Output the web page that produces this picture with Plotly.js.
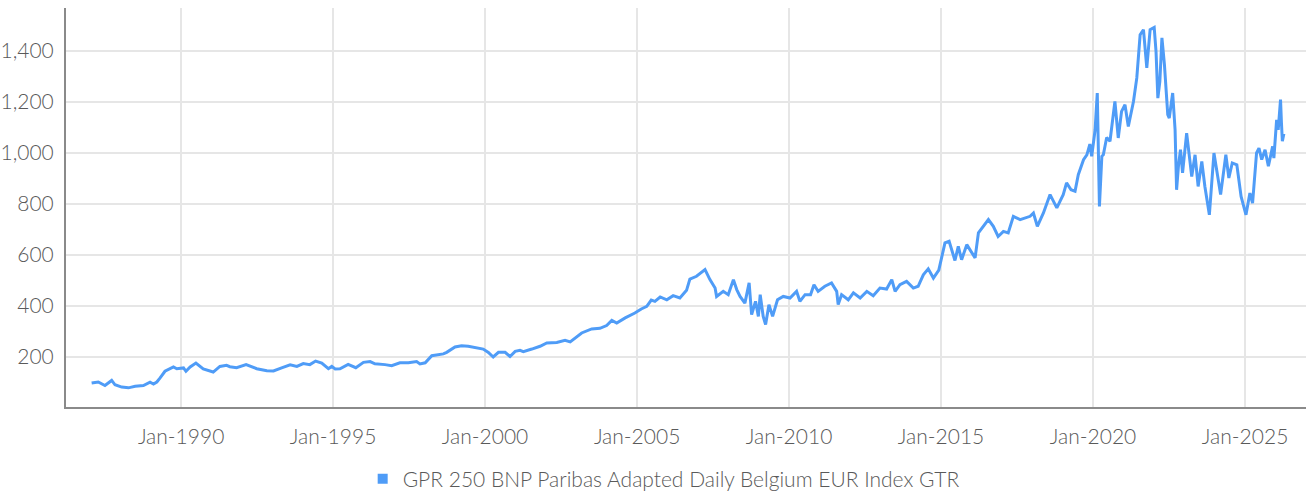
<!DOCTYPE html>
<html>
<head>
<meta charset="utf-8">
<script src="https://cdn.plot.ly/plotly-3.0.1.min.js"></script>
<style>
  html, body { margin: 0; padding: 0; background: #ffffff; }
  #chart { width: 1308px; height: 493px; }
</style>
</head>
<body>
<div id="chart"></div>
<script>
// Series name
const seriesName = "GPR 250 BNP Paribas Adapted Daily Belgium EUR Index GTR";

// Dates
const dates = [
  "1987-01-22","1987-04-12","1987-07-01","1987-09-20","1987-10-30","1988-01-18","1988-04-08","1988-06-28","1988-10-05","1988-12-24",
  "1989-02-03","1989-03-15","1989-04-24","1989-06-21","1989-10-01","1989-11-10","1990-01-30","1990-02-28","1990-04-20","1990-06-28",
  "1990-09-24","1991-01-22","1991-04-12","1991-07-01","1991-08-10","1991-10-30","1992-02-21","1992-06-28","1992-10-27","1993-01-15",
  "1993-04-23","1993-08-03","1993-10-23","1994-01-08","1994-03-28","1994-06-05","1994-08-18","1994-11-06","1994-12-16","1995-01-26",
  "1995-03-25","1995-07-01","1995-10-01","1996-01-01","1996-03-21","1996-05-18","1996-09-16","1996-12-05","1997-03-14","1997-06-24",
  "1997-10-01","1997-11-10","1998-01-12","1998-04-01","1998-08-18","1998-09-27","1999-01-05","1999-03-25","1999-06-13","1999-10-12",
  "1999-12-10","2000-02-10","2000-04-08","2000-06-10","2000-08-29","2000-10-27","2000-12-28","2001-02-24","2001-04-05","2001-07-16",
  "2001-10-23","2002-01-12","2002-05-12","2002-08-19","2002-10-20","2003-03-07","2003-07-05","2003-10-12","2004-01-01","2004-03-03",
  "2004-05-01","2004-08-11","2004-12-05","2005-02-20","2005-04-27","2005-06-20","2005-08-03","2005-10-05","2005-12-24","2006-03-10",
  "2006-05-30","2006-08-18","2006-09-27","2006-12-16","2007-03-28","2007-05-26","2007-07-27","2007-08-14","2007-11-02","2008-01-01",
  "2008-03-03","2008-04-12","2008-05-22","2008-07-19","2008-09-08","2008-10-08","2008-11-24","2008-12-28","2009-01-19","2009-02-24",
  "2009-03-25","2009-05-04","2009-06-17","2009-08-15","2009-10-23","2010-01-12","2010-04-01","2010-05-11","2010-07-12","2010-09-16",
  "2010-10-27","2010-12-16","2011-03-07","2011-05-26","2011-07-27","2011-08-14","2011-09-24","2011-12-13","2012-02-13","2012-05-04",
  "2012-07-23","2012-10-08","2012-12-28","2013-03-18","2013-05-19","2013-06-28","2013-08-25","2013-11-13","2014-02-02","2014-04-01",
  "2014-06-02","2014-07-31","2014-10-01","2014-12-05","2015-01-19","2015-02-17","2015-04-08","2015-06-17","2015-07-27","2015-09-05",
  "2015-11-06","2016-01-05","2016-02-14","2016-03-25","2016-05-22","2016-07-23","2016-09-20","2016-11-17","2017-01-19","2017-03-18",
  "2017-05-19","2017-08-08","2017-12-06","2018-01-15","2018-03-03","2018-05-15","2018-08-03","2018-10-23","2019-01-08","2019-02-17",
  "2019-04-12","2019-05-30","2019-07-08","2019-09-09","2019-10-19","2019-11-24","2019-12-16","2020-01-26","2020-02-21","2020-03-18",
  "2020-04-16","2020-05-04","2020-06-13","2020-07-23","2020-09-20","2020-10-30","2020-12-09","2021-01-19","2021-02-28","2021-05-01",
  "2021-06-10","2021-07-20","2021-08-29","2021-10-08","2021-11-17","2022-01-05","2022-01-27","2022-02-18","2022-03-14","2022-04-08",
  "2022-05-08","2022-06-17","2022-07-05","2022-08-15","2022-09-13","2022-10-01","2022-10-23","2022-11-17","2022-12-12","2023-01-30",
  "2023-04-01","2023-05-11","2023-06-17","2023-07-31","2023-09-06","2023-10-30","2023-12-24","2024-02-02","2024-03-13","2024-05-15",
  "2024-06-20","2024-07-31","2024-09-24","2024-11-14","2025-01-12","2025-02-28","2025-04-01","2025-05-19","2025-06-17","2025-07-20",
  "2025-08-29","2025-10-08","2025-11-28","2025-12-13","2026-01-15","2026-02-03","2026-03-03","2026-03-14","2026-03-25","2026-04-12"
];

// Index values
const values = [
  98,102,88,108,91,82,79,85,88,101,
  94,102,118,144,161,154,157,144,161,176,
  153,141,163,167,162,158,170,154,146,145,
  157,169,163,174,170,184,176,154,163,153,
  154,171,158,179,182,173,170,166,177,177,
  182,173,177,205,212,218,239,244,242,233,
  231,218,200,218,218,202,222,226,221,231,
  242,255,257,265,259,294,310,312,323,343,
  333,353,372,388,398,423,418,435,424,440,
  431,461,505,516,542,503,470,437,457,444,
  503,464,437,411,490,366,418,359,444,359,
  327,405,359,424,437,431,457,418,444,444,
  483,457,477,490,457,405,444,424,451,431,
  457,440,470,466,503,457,483,496,470,477,
  522,545,509,540,610,647,653,578,633,581,
  640,607,588,686,712,738,712,672,692,686,
  751,738,751,764,712,764,836,784,836,882,
  855,849,914,973,992,1034,986,1090,1234,790,
  986,992,1060,1045,1201,1058,1162,1188,1103,1201,
  1293,1462,1482,1332,1482,1491,1397,1214,1280,1450,
  1345,1149,1136,1234,1090,855,947,1012,921,1077,
  907,992,868,966,868,757,999,914,836,992,
  901,960,953,829,757,842,803,999,1018,973,
  1012,947,1025,979,1129,1090,1208,1117,1045,1075
];

// Axis ticks
const yTickValues = [200, 400, 600, 800, 1000, 1200, 1400];
const xRange = ["1986-03-20", "2027-01-03"];
const yRange = [4, 1567];

const lineColor = "#4f9cf7";
const textColor = "#5a5a5a";
const fontFamily = "Lato, 'Liberation Sans', sans-serif";

const traces = [
  {
    x: dates, y: values, type: "scatter", mode: "lines",
    line: { color: lineColor, width: 3 },
    name: seriesName, showlegend: false,
    hoverinfo: "x+y"
  },
  {
    x: [null], y: [null], type: "scatter", mode: "markers",
    marker: { color: lineColor, symbol: "square", size: 10 },
    name: seriesName, showlegend: true
  }
];

const layout = {
  width: 1308, height: 493,
  margin: { l: 66, r: 2, t: 8, b: 86, autoexpand: false },
  paper_bgcolor: "#ffffff",
  plot_bgcolor: "#ffffff",
  font: { family: fontFamily, color: textColor, size: 21, weight: 300 },
  showlegend: true,
  legend: {
    orientation: "h", x: 0.482, xanchor: "center",
    yref: "container", y: 0.028, yanchor: "middle",
    font: { family: fontFamily, size: 21, color: textColor, weight: 300 },
    itemwidth: 30
  },
  xaxis: {
    type: "date",
    range: xRange,
    tick0: "1990-01-01", dtick: "M60",
    tickformat: "%b-%Y",
    showgrid: true, gridcolor: "#e6e6e6", gridwidth: 2,
    showline: true, linecolor: "#8a8a8a", linewidth: 2,
    ticks: "", zeroline: false,
    ticklabelstandoff: 10,
    tickfont: { family: fontFamily, size: 21, color: textColor, weight: 300 }
  },
  yaxis: {
    range: yRange,
    tickvals: yTickValues,
    tickformat: ",",
    showgrid: true, gridcolor: "#e6e6e6", gridwidth: 2,
    showline: true, linecolor: "#8a8a8a", linewidth: 2,
    ticks: "", zeroline: false,
    ticklabelstandoff: 6,
    tickfont: { family: fontFamily, size: 21, color: textColor, weight: 300 }
  }
};

Plotly.newPlot("chart", traces, layout, { displayModeBar: false, staticPlot: true });
</script>
</body>
</html>
